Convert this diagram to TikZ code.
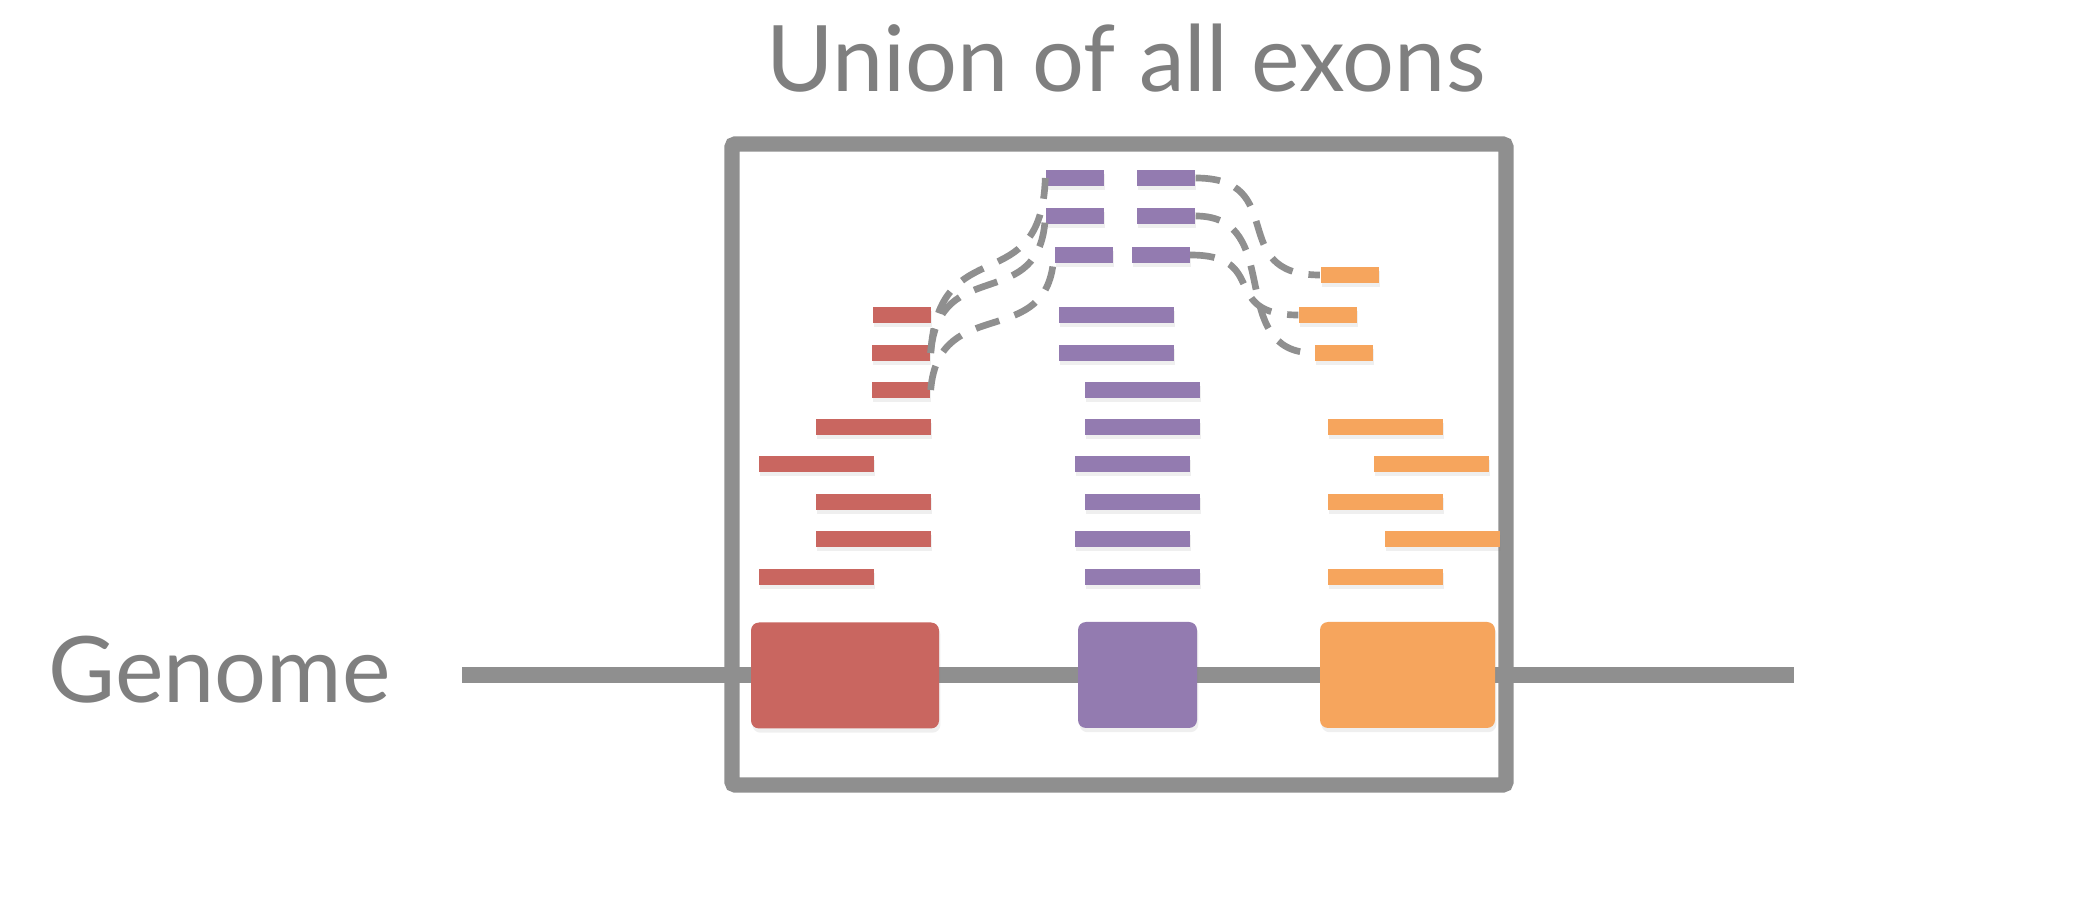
\documentclass[tikz,border=0pt]{standalone}
\usepackage{fontspec}
\setmainfont{Lato}
\usetikzlibrary{shadows}
\definecolor{exonRed}{HTML}{C96660}
\definecolor{exonPurple}{HTML}{937BB0}
\definecolor{exonOrange}{HTML}{F6A55D}
\definecolor{lineGray}{HTML}{8F8F8F}
\definecolor{textGray}{HTML}{7F7F7F}

\begin{document}
\begin{tikzpicture}[
  x=0.1mm, y=-0.1mm,
  caption/.style={font=\fontsize{26.1}{32}\selectfont, text=textGray, inner sep=0pt},
  unionbox/.style={draw=lineGray, line width=4.4pt, rounded corners=1pt, minimum width=77.4mm, minimum height=64.1mm, inner sep=0pt},
  chrom/.style={draw=lineGray, line width=4.4pt},
  exon/.style={rounded corners=0.8mm, minimum height=10.6mm, inner sep=0pt, drop shadow={shadow xshift=0.4pt, shadow yshift=-1.2pt, opacity=0.12}},
  read/.style={minimum height=1.55mm, inner sep=0pt, drop shadow={shadow xshift=0.4pt, shadow yshift=-1.2pt, opacity=0.12}},
  shortread/.style={read, minimum width=5.8mm},
  longread/.style={read, minimum width=11.5mm},
  link/.style={draw=lineGray, line width=1.9pt, dash pattern=on 7pt off 4.6pt}
]
\fill[white] (0,0) rectangle (2096,912);

\node[caption, anchor=base] (title) at (1126,92) {Union of all exons};
\node[caption, anchor=base west] (genome) at (48,703) {Genome};

\node[unionbox] (union) at (1119,464.5) {};
\coordinate (gstart) at (462,675);
\coordinate (gend) at (1794,675);
\draw[chrom] (gstart) -- (gend);

\node[exon, fill=exonRed, minimum width=18.8mm] (exA) at (845,675.5) {};
\node[exon, fill=exonPurple, minimum width=11.9mm] (exB) at (1137.5,675) {};
\node[exon, fill=exonOrange, minimum width=17.5mm] (exC) at (1407.5,675) {};

\foreach \nm/\x/\y/\kind in {r1/902/315/shortread, r2/901/353/shortread, r3/901/390/shortread,
    r4/873/427/longread, r5/816/464/longread, r6/873/502/longread, r7/873/539/longread, r8/816/577/longread}
  \node[\kind, fill=exonRed] (\nm) at (\x,\y) {};
\foreach \nm/\x/\y/\kind in {p1l/1075/178/shortread, p1r/1166/178/shortread, p2l/1075/216/shortread, p2r/1166/216/shortread,
    p3l/1083.5/255/shortread, p3r/1160.5/255/shortread, p4/1116.5/315/longread, p5/1116.5/353/longread,
    p6/1142.5/390/longread, p7/1142.5/427/longread, p8/1132.5/464/longread, p9/1142.5/502/longread,
    p10/1132.5/539/longread, p11/1142.5/577/longread}
  \node[\kind, fill=exonPurple] (\nm) at (\x,\y) {};
\foreach \nm/\x/\y/\kind in {o1/1349.5/275/shortread, o2/1328/315/shortread, o3/1344/353/shortread,
    o4/1385.5/427/longread, o5/1431/464/longread, o6/1385.5/502/longread, o7/1442/539/longread, o8/1385.5/577/longread}
  \node[\kind, fill=exonOrange] (\nm) at (\x,\y) {};

\foreach \a/\b/\len in {r2/p1l/125, r2/p2l/100, r3/p3l/98}
  \draw[link] (\a.east) .. controls +(8,-\len) and +(-4,\len) .. (\b.west);
\foreach \a/\b/\len in {p1r/o1/95, p2r/o3/90, p3r/o2/80}
  \draw[link] (\a.east) .. controls +(\len,0) and +(-\len,0) .. (\b.west);
\end{tikzpicture}
\end{document}
